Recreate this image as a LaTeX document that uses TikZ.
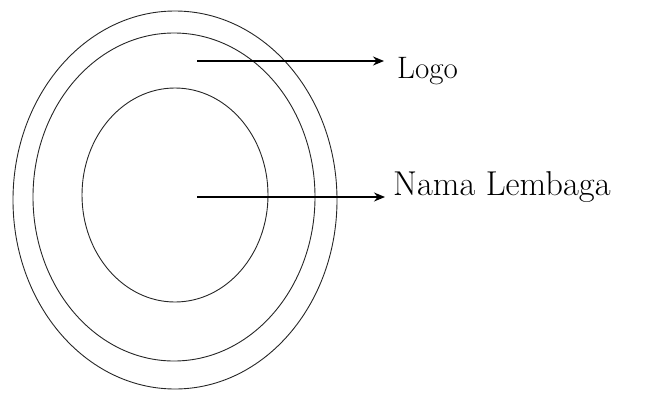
\documentclass[tikz,border=0pt]{standalone}
\usetikzlibrary{arrows.meta}
\begin{document}
\begin{tikzpicture}[x=1pt,y=-1pt,
  ring/.style={draw=black!85,line width=0.9pt},
  pointer/.style={draw=black,line width=1.4pt,-{Stealth[length=11pt,width=9pt]}},
  lbl/.style={anchor=base west,inner sep=0pt}]
\useasboundingbox (0,0) rectangle (662,394);
\draw[ring] (175,200) ellipse [x radius=162,y radius=189];
\draw[ring] (174,197) ellipse [x radius=141,y radius=164];
\draw[ring] (175,195) ellipse [x radius=93,y radius=107];
\node[lbl,font=\fontsize{31}{35}\selectfont] (logo) at (397,78) {Logo};
\node[lbl,font=\fontsize{34.5}{38}\selectfont] (nama) at (393,195) {Nama Lembaga};
\coordinate (s1) at (197,61);
\coordinate (e1) at (384,61);
\coordinate (s2) at (197,197);
\coordinate (e2) at (385,197);
\draw[pointer] (s1) -- (e1);
\draw[pointer] (s2) -- (e2);
\end{tikzpicture}
\end{document}
